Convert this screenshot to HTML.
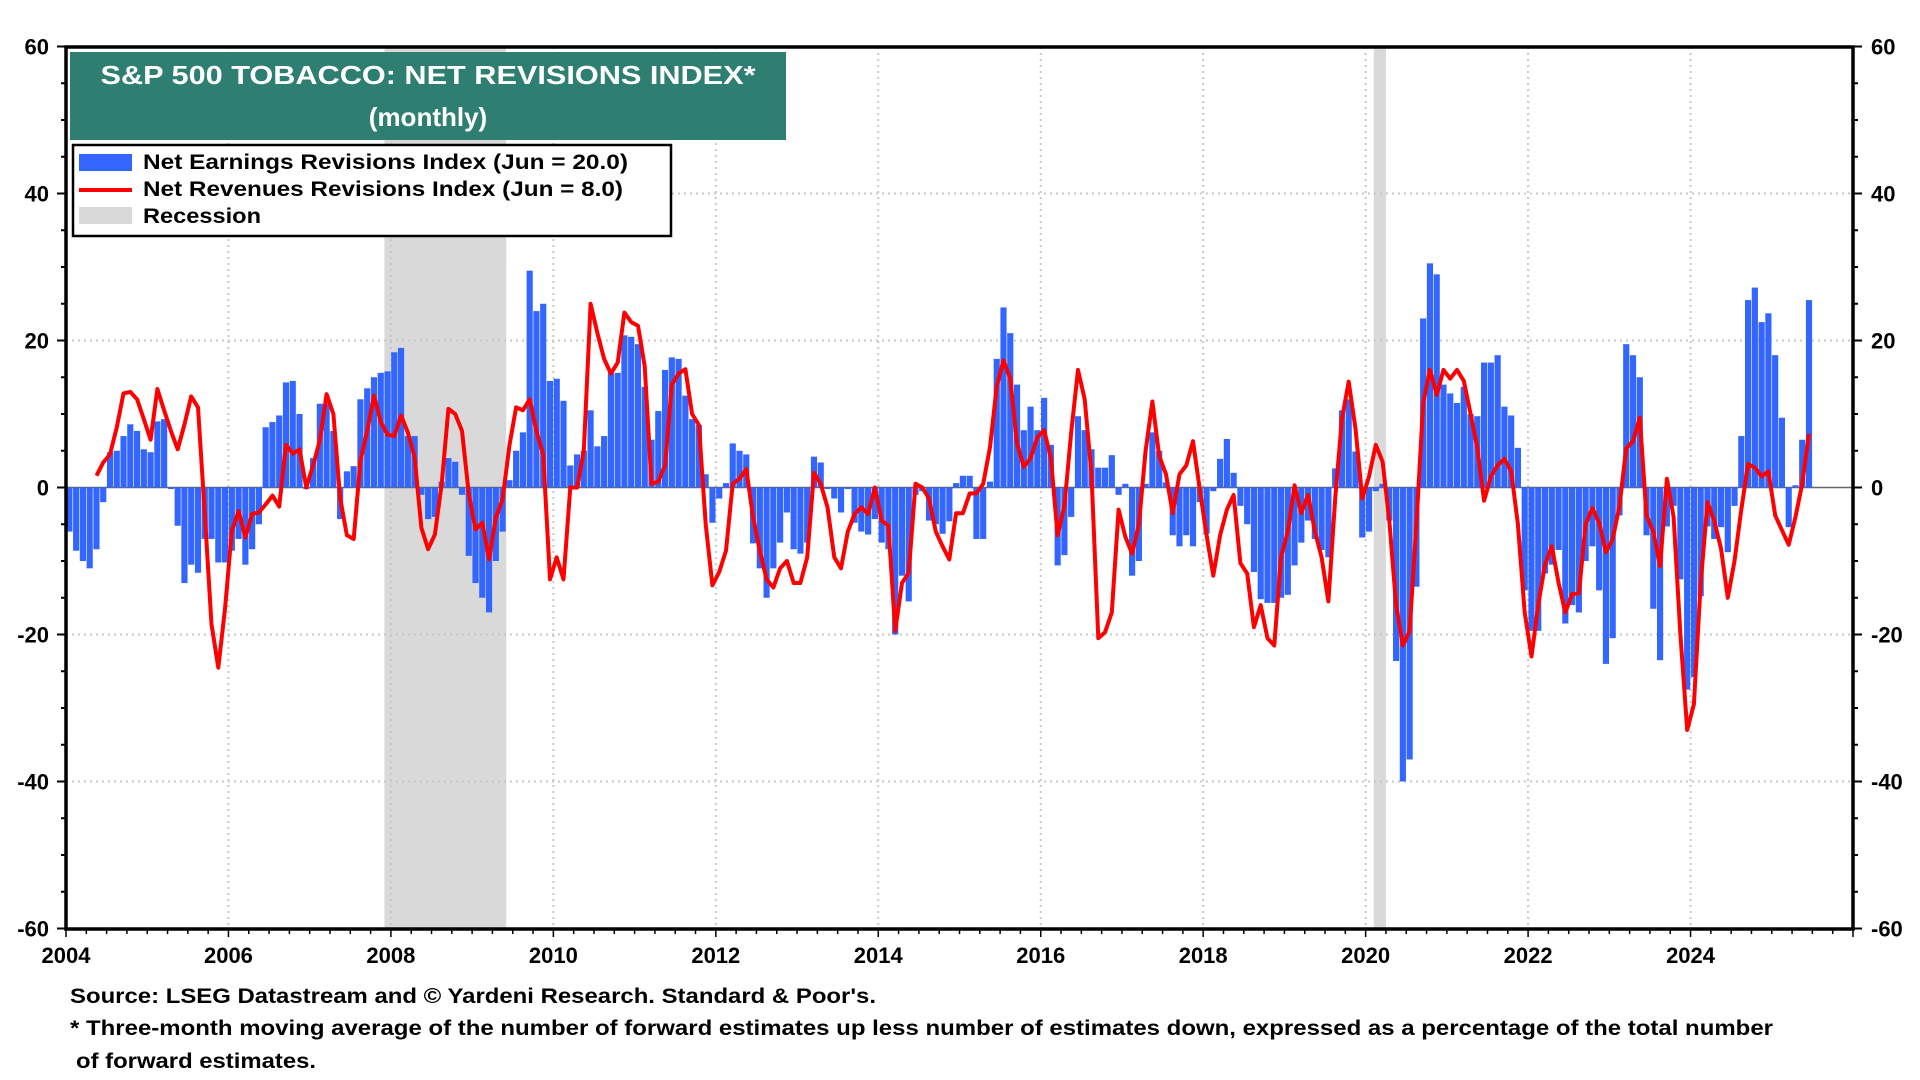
<!DOCTYPE html>
<html><head><meta charset="utf-8"><style>
html,body{margin:0;padding:0;background:#fff;}
svg{display:block;font-family:"Liberation Sans",Arial,sans-serif;font-weight:bold;}
</style></head><body>
<svg id="chart" width="1920" height="1080" viewBox="0 0 1920 1080" xmlns="http://www.w3.org/2000/svg">
<g id="recess"></g>
<g id="grid"></g>
<g id="bars"></g>
<g id="lines"></g>
<g id="axes"></g>
<rect x="70" y="52" width="716" height="88" fill="#2e7f72"/>
<text x="428" y="84" text-anchor="middle" fill="#fff" font-size="26" textLength="655" lengthAdjust="spacingAndGlyphs">S&amp;P 500 TOBACCO: NET REVISIONS INDEX*</text>
<text x="428" y="126" text-anchor="middle" fill="#fff" font-size="26">(monthly)</text>
<g>
<rect x="73" y="145" width="598" height="91" fill="#fff" stroke="#000" stroke-width="2.5"/>
<rect x="79" y="154" width="53" height="17" fill="#3366ff"/>
<line x1="79" y1="190" x2="132" y2="190" stroke="#ff0000" stroke-width="4"/>
<rect x="79" y="207" width="53" height="17" fill="#d9d9d9"/>
<text x="143" y="169" font-size="21" textLength="485" lengthAdjust="spacingAndGlyphs">Net Earnings Revisions Index (Jun  = 20.0)</text>
<text x="143" y="196" font-size="21" textLength="480" lengthAdjust="spacingAndGlyphs">Net Revenues Revisions Index (Jun  = 8.0)</text>
<text x="143" y="223" font-size="21" textLength="118" lengthAdjust="spacingAndGlyphs">Recession</text>
</g>
<text x="70" y="1003" font-size="21" textLength="806" lengthAdjust="spacingAndGlyphs">Source: LSEG Datastream and © Yardeni Research. Standard &amp; Poor's.</text>
<text x="70" y="1035" font-size="21" textLength="1703" lengthAdjust="spacingAndGlyphs">* Three-month moving average of the number of forward estimates up less number of estimates down, expressed as a percentage of the total number</text>
<text x="76" y="1068" font-size="21" textLength="240" lengthAdjust="spacingAndGlyphs">of forward estimates.</text>
</svg>
<script>
const earnings = [-6,-8.6,-10,-11,-8.4,-2,4.8,5,7,8.6,7.7,5.2,4.8,9,9.3,0,-5.2,-13,-10.5,-11.6,-7,-7,-10.2,-10.2,-8.6,-7,-10.5,-8.4,-5,8.2,8.9,9.8,14.3,14.5,10,0,4,11.4,11.4,7.7,-4.3,2.2,2.9,12,13.5,15,15.6,15.8,18.4,19,7,7,-1,-4.3,-4,0.8,4,3.5,-1,-9.3,-13,-15,-17,-10,-6,1,5,7.5,29.5,24,25,14.5,14.8,11.8,3,4.5,5,10.5,5.6,7,15.6,15.6,20.7,20.5,19.5,13.7,6.5,10.4,16,17.7,17.5,12.5,9.3,8.5,1.8,-4.8,-1.5,0.6,6,5,4.5,-7.6,-11,-15,-11,-7.5,-3.4,-8.4,-9,-7.5,4.2,3.4,0,-1.5,-3.4,0,-4.8,-6,-6.4,-4.3,-7.5,-8.4,-20,-12,-15.5,-1,-0.5,-4.5,-5,-6.3,-4.6,0.6,1.6,1.6,-7,-7,0.8,17.5,24.5,21,14,7.8,11,7.8,12.2,5.8,-10.6,-9.2,-4,9.7,7.8,5.2,2.7,2.7,4.4,-1,0.5,-12,-10,0.5,7.5,5,0.7,-6.5,-8,-6.5,-8,-2,-6.3,-0.5,3.9,6.6,2,-2.5,-5,-11.5,-15.2,-15.7,-15.7,-15,-14.6,-10.6,-7.5,-4.5,-7,-8.5,-9.5,2.6,10.5,12,4.9,-6.8,-6,-0.5,0.5,-4.5,-23.6,-40,-37,-13.5,23,30.5,29,14,12.8,11.5,13.7,10,9.7,17,17,18,11,9.8,5.4,-14,-19.5,-19.5,-11.7,-10.5,-8.5,-18.5,-16,-17,-10,-8,-14,-24,-20.5,-3.8,19.5,18,15,-6.5,-16.5,-23.5,-5.3,-2.5,-12.5,-27.5,-25.8,-14.8,-5.3,-7,-5.4,-8.8,-2.5,7,25.5,27.2,22.5,23.7,18,9.5,-5.4,0.3,6.5,25.5];
const revenues = [null,null,null,null,1.6,3.4,4.5,8.2,12.8,13,12,9.3,6.5,13.4,10.5,7.7,5.2,8.6,12.4,10.9,-3.6,-18.6,-24.5,-16.4,-5.9,-3.2,-6.8,-3.6,-3.4,-2.3,-1.1,-2.6,5.8,4.6,5.2,0,3,6.4,12.7,10,-1.4,-6.5,-7,3.6,7.7,12.5,8.9,7.2,7,9.8,7.5,4.1,-5.5,-8.4,-6.4,0.5,10.7,10,7.7,-0.9,-5.7,-4.8,-9.8,-4.1,-1.6,5.7,10.9,10.5,12,7.7,4.5,-12.5,-9.5,-12.5,0,0,5,25,21,17.5,15.5,17,23.8,22.5,22,16.5,0.5,0.8,3,14,15.5,16.1,10,8.5,-5,-13.3,-11.5,-8.6,0.5,1.2,2.5,-4,-8.6,-12.5,-13.6,-11,-10,-13,-13,-9.5,2,0.5,-2.7,-9.5,-11,-6,-3.6,-2.7,-3.6,0,-4.5,-5.2,-19.5,-13,-11.6,0.5,0,-1.5,-6,-8,-9.8,-3.5,-3.5,-0.8,-0.8,0.5,5.5,13.7,17.3,14.8,6,2.8,4,6.8,7.8,4,-6.5,-2.5,7.5,16,12,1.8,-20.5,-19.7,-17,-3,-6.7,-9,-5,5,11.7,4.3,1.8,-3.5,1.8,3,6.3,-0.3,-6.5,-12,-6.5,-3,-1,-10.3,-11.7,-19,-16,-20.5,-21.5,-9.5,-6,0.3,-3.5,-1,-6,-9.5,-15.5,-1.5,9.3,14.4,8,-1.5,1.5,5.8,3.5,-4.5,-16,-21.5,-19.5,-5,11.5,16,12.6,16,14.8,16,14.5,10,5.4,-1.8,1.5,3,3.9,2.2,-5,-17,-23,-16,-10.5,-8,-13,-17,-14.5,-14.4,-5,-2.8,-4.8,-8.8,-7,-2.5,5.3,6.3,9.5,-3.8,-6,-10.7,1.2,-4,-20,-33,-29.5,-13,-2,-4.5,-8.3,-15,-10,-3,3.2,2.7,1.5,2.2,-3.8,-5.8,-7.8,-4,0.5,7.3];
const yTicks = [-60,-40,-20,0,20,40,60];
const xTicks = [2004,2006,2008,2010,2012,2014,2016,2018,2020,2022,2024];
const recessions = [[2007.92,2009.42],[2020.1,2020.25]];
const startYear = 2004;

const NS = "http://www.w3.org/2000/svg";
const L = 66, R = 1853, T = 47, B = 929;
const xS = y => L + (y - 2004) / 22 * (R - L);
const yS = v => 487.5 - v * (B - T) / 120;
function mk(tag, attrs, parent){ const e = document.createElementNS(NS, tag); for (const k in attrs) e.setAttribute(k, attrs[k]); parent.appendChild(e); return e; }
const gR = document.getElementById('recess'), gG = document.getElementById('grid'), gB = document.getElementById('bars'), gL = document.getElementById('lines'), gA = document.getElementById('axes');

recessions.forEach(r => {
  const e = mk('rect', {x: xS(r[0]), y: T, width: xS(r[1]) - xS(r[0]), height: B - T, fill: '#d9d9d9'}, gR);
  
  
});
xTicks.forEach(t => {
  if (t === 2004) return;
  const e = mk('line', {x1: xS(t), x2: xS(t), y1: T, y2: B, stroke: '#c8c8c8', 'stroke-width': 2, 'stroke-dasharray': '2 4'}, gG);
  
  
});
yTicks.forEach(t => {
  if (t === 0 || Math.abs(t) === 60) return;
  const e = mk('line', {x1: L, x2: R, y1: yS(t), y2: yS(t), stroke: '#c8c8c8', 'stroke-width': 2, 'stroke-dasharray': '2 4'}, gG);
  
  
});
const zl = mk('line', {x1: L, x2: R, y1: yS(0), y2: yS(0), stroke: '#666', 'stroke-width': 1.5}, gG);



const mw = (R - L) / 22 / 12;
earnings.forEach((v, i) => {
  const x = xS(startYear + i / 12);
  const y0 = yS(0), y1 = yS(v);
  const e = mk('rect', {x: x + 0.3, y: Math.min(y0, y1), width: mw - 0.6, height: Math.max(1.5, Math.abs(y1 - y0)), fill: '#3366ff'}, gB);
  
  
});
let d = '';
revenues.forEach((v, i) => {
  if (v === null) return;
  const x = xS(startYear + i / 12) + mw / 2;
  d += (d ? 'L' : 'M') + x.toFixed(1) + ' ' + yS(v).toFixed(1);
});
const pl = mk('path', {d: d, fill: 'none', stroke: '#ff0000', 'stroke-width': 4, 'stroke-linejoin': 'round'}, gL);



const fr = mk('rect', {x: L, y: T, width: R - L, height: B - T, fill: 'none', stroke: '#000', 'stroke-width': 3.5}, gA);


for (let v = -60; v <= 60; v += 5) {
  const len = (v % 20 === 0) ? 9 : 5;
  mk('line', {x1: L - len, x2: L, y1: yS(v), y2: yS(v), stroke: '#000', 'stroke-width': 2}, gA);
  mk('line', {x1: R, x2: R + len, y1: yS(v), y2: yS(v), stroke: '#000', 'stroke-width': 2}, gA);
}
for (let q = 0; q <= 88; q++) {
  const x = xS(2004 + q / 4);
  mk('line', {x1: x, x2: x, y1: B, y2: B + (q % 8 === 0 ? 8 : 5), stroke: '#000', 'stroke-width': 1.5}, gA);
}
yTicks.forEach(t => {
  const a = mk('text', {x: 49, y: yS(t) + 8, 'text-anchor': 'end', 'font-size': 22}, gA);
  a.textContent = t;
  
  
  const b = mk('text', {x: 1871, y: yS(t) + 8, 'font-size': 22}, gA);
  b.textContent = t;
  
  
});
xTicks.forEach(t => {
  const a = mk('text', {x: xS(t), y: 963, 'text-anchor': 'middle', 'font-size': 22}, gA);
  a.textContent = t;
  
  
});
</script>
</body></html>
